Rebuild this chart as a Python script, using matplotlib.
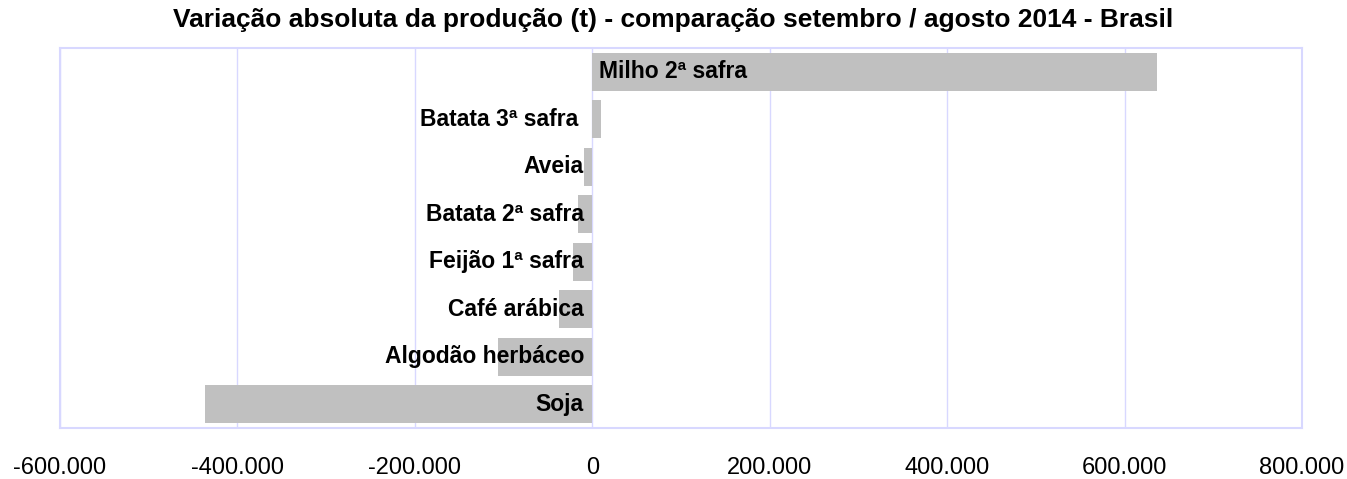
import matplotlib
matplotlib.use("Agg")
import matplotlib.pyplot as plt
from matplotlib.ticker import FuncFormatter

plt.rcParams['font.family'] = ['Liberation Sans', 'DejaVu Sans']

categories = ["Milho 2ª safra", "Batata 3ª safra", "Aveia", "Batata 2ª safra",
              "Feijão 1ª safra", "Café arábica", "Algodão herbáceo", "Soja"]
values = [636000, 10000, -9000, -16000, -21500, -38000, -106000, -437000]
xticks = [-600000, -400000, -200000, 0, 200000, 400000, 600000, 800000]
title = "Variação absoluta da produção (t) - comparação setembro / agosto 2014 - Brasil"

fig = plt.figure(figsize=(13.47, 4.79), dpi=100)
ax = fig.add_axes([60/1347, 1-428/479, (1302-60)/1347, (428-48)/479])

ypos = list(range(len(categories)))
ax.barh(ypos, values, height=0.8, color="#C0C0C0", zorder=2)
ax.set_ylim(len(categories)-0.5, -0.5)
ax.set_xlim(xticks[0], xticks[-1])
ax.set_xticks(xticks)
ax.xaxis.set_major_formatter(FuncFormatter(lambda v, p: f"{int(v):,}".replace(",", ".")))
ax.tick_params(axis='x', length=0, pad=21, labelsize=17)
ax.set_yticks([])
ax.grid(axis='x', color="#D8D8FF", linewidth=1, zorder=0)
for s in ax.spines.values():
    s.set_color("#D8D8FF")
    s.set_linewidth(1.5)

lab_fs = 16.5
for y, (cat, v) in enumerate(zip(categories, values)):
    if v > 100000:
        ax.annotate(cat, (0, y), xytext=(5, 0), textcoords='offset points',
                    ha='left', va='center', fontsize=lab_fs, fontweight='bold', zorder=3)
    elif v > 0:
        ax.annotate(cat, (0, y), xytext=(-10, 0), textcoords='offset points',
                    ha='right', va='center', fontsize=lab_fs, fontweight='bold', zorder=3)
    else:
        ax.annotate(cat, (0, y), xytext=(-6, 0), textcoords='offset points',
                    ha='right', va='center', fontsize=lab_fs, fontweight='bold', zorder=3)

fig.text(0.5, 1-20/479, title, ha='center', va='center', fontsize=19, fontweight='bold')

fig.savefig("out.png", dpi=100)
